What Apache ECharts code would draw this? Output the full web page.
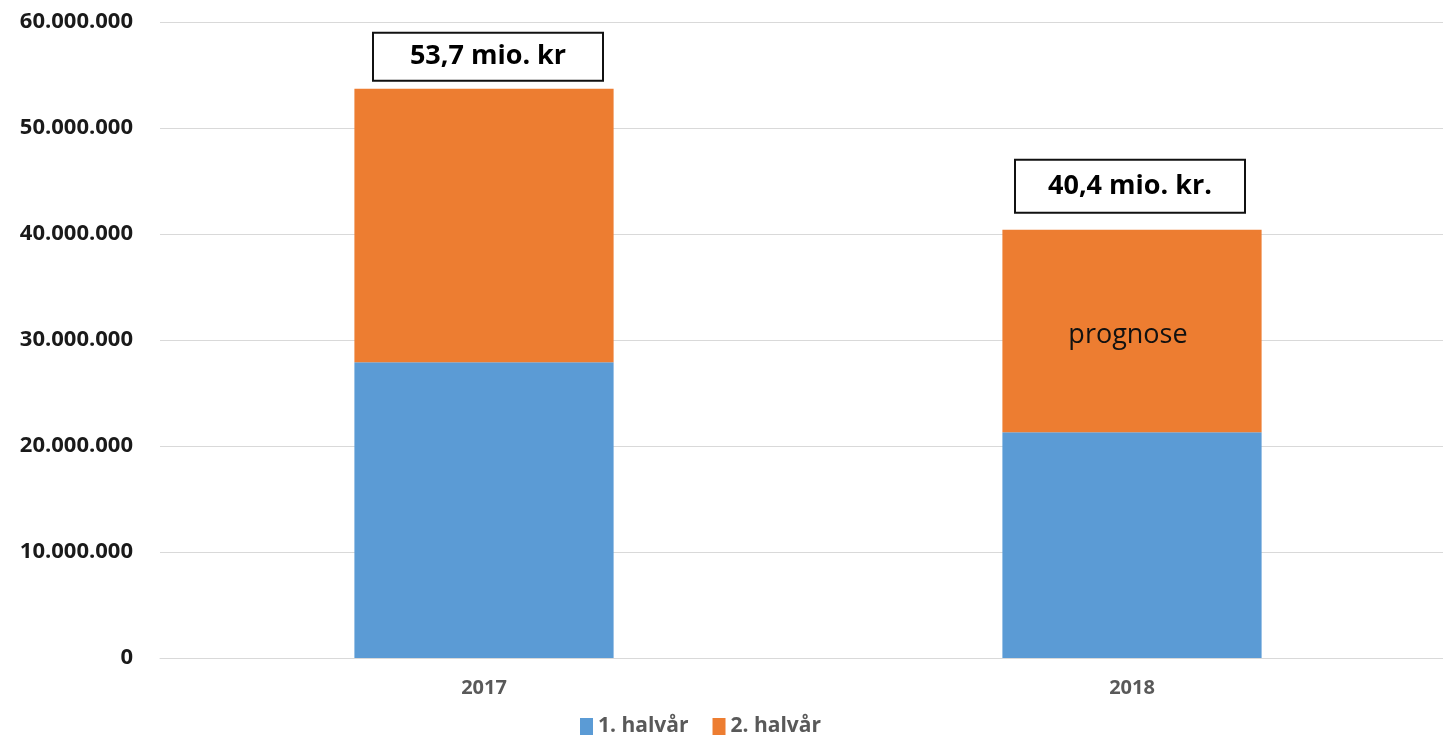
<!DOCTYPE html>
<html><head><meta charset="utf-8">
<script src="https://cdn.jsdelivr.net/npm/echarts@6/dist/echarts.min.js"></script>
<style>html,body{margin:0;padding:0;background:#fff;overflow:hidden;width:1443px;height:737px}#c{width:1460px;height:737px}</style>
</head><body><div id="c"></div>
<script>
const categories = ['2017', '2018'];
const firstHalf = [27900000, 21300000];
const secondHalf = [25800000, 19100000];
const totalLabels = ['53,7 mio. kr', '40,4 mio. kr.'];
const segmentNotes = ['', 'prognose'];
const seriesNames = ['1. halvår', '2. halvår'];
const yTicks = [0, 10000000, 20000000, 30000000, 40000000, 50000000, 60000000];

const FONT = '"Open Sans", "Noto Sans", sans-serif';
const fmt = v => String(v).replace(/\B(?=(\d{3})+(?!\d))/g, '.');

const chart = echarts.init(document.getElementById('c'), null, {renderer: 'canvas'});
const labelDist = [9, 18];
const labelH = [48, 53];
const labelShift = [[4, 0], [-2, 0]];
chart.setOption({
  animation: false,
  grid: {left: 160, top: 22, width: 1296, height: 636},
  legend: {
    data: seriesNames, top: 711, left: 575, icon: 'rect',
    itemWidth: 13, itemHeight: 17, itemGap: 24,
    textStyle: {color: '#595959', fontSize: 21, fontWeight: 'bold', fontFamily: FONT}
  },
  xAxis: {
    type: 'category', data: categories,
    axisLine: {lineStyle: {color: '#d9d9d9', width: 1}},
    axisTick: {show: false},
    axisLabel: {color: '#595959', fontSize: 20, fontWeight: 'bold', fontFamily: FONT, margin: 20}
  },
  yAxis: {
    type: 'value', min: yTicks[0], max: yTicks[yTicks.length - 1], interval: 10000000,
    axisLine: {show: false}, axisTick: {show: false},
    splitLine: {lineStyle: {color: '#d9d9d9', width: 1}},
    axisLabel: {color: '#1a1a1a', fontSize: 22, fontWeight: 'bold', fontFamily: FONT, margin: 27,
      formatter: v => fmt(v)}
  },
  series: [
    {
      name: seriesNames[0], type: 'bar', stack: 'a', barWidth: '40%',
      itemStyle: {color: '#5b9bd5'},
      data: firstHalf
    },
    {
      name: seriesNames[1], type: 'bar', stack: 'a', barWidth: '40%',
      itemStyle: {color: '#ed7d31'},
      data: secondHalf.map((v, i) => ({
        value: v,
        label: {
          show: !!segmentNotes[i], position: 'inside', formatter: segmentNotes[i],
          offset: [-4, 4],
          color: '#111', fontSize: 27, fontFamily: FONT
        }
      }))
    },
    {
      name: 'total', type: 'bar', stack: 'a', barWidth: '40%',
      itemStyle: {color: 'transparent'}, silent: true,
      data: categories.map((c, i) => ({
        value: 0,
        label: {
          show: true, position: 'top', distance: labelDist[i], offset: labelShift[i],
          formatter: totalLabels[i],
          color: '#000', fontSize: 27, fontWeight: 'bold', fontFamily: FONT,
          backgroundColor: '#fff', borderColor: '#111', borderWidth: 2,
          width: 228, height: labelH[i] - 2, lineHeight: labelH[i] - 2, align: 'center'
        }
      }))
    }
  ]
});
</script></body></html>
